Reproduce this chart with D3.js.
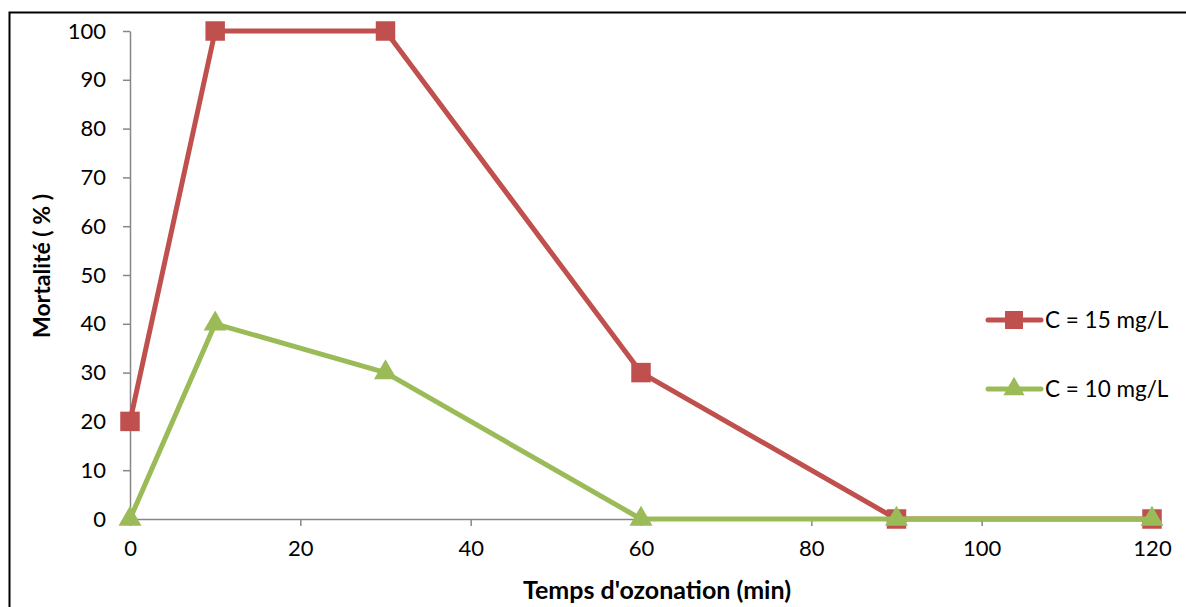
<!DOCTYPE html>
<html><head><meta charset="utf-8">
<script src="https://cdn.jsdelivr.net/npm/d3@7"></script>
<style>body{margin:0;background:#fff;} text{font-family:Lato,"Open Sans",sans-serif;}</style>
</head><body><svg id="c" width="1186" height="607"></svg>
<script>
const times = [0, 10, 30, 60, 90, 120];
const c15 = [20, 100, 100, 30, 0, 0];
const c10 = [0, 40, 30, 0, 0, 0];
const xTicks = [0, 20, 40, 60, 80, 100, 120];
const yTicks = [0, 10, 20, 30, 40, 50, 60, 70, 80, 90, 100];
const seriesNames = ["C = 15 mg/L", "C = 10 mg/L"];

const svg = d3.select("#c");
svg.append("rect").attr("x", 9.5).attr("y", 12.5).attr("width", 1200).attr("height", 620)
  .attr("fill", "#fff").attr("stroke", "#000").attr("stroke-width", 2);

const x = d3.scaleLinear().domain([0, 120]).range([130, 1152]);
const y = d3.scaleLinear().domain([0, 100]).range([519, 31]);

const gx = svg.append("g").attr("transform", "translate(0,519)")
  .call(d3.axisBottom(x).tickValues(xTicks).tickSize(7).tickPadding(14).tickSizeOuter(0));
const gy = svg.append("g").attr("transform", "translate(130,0)")
  .call(d3.axisLeft(y).tickValues(yTicks).tickSize(7).tickPadding(17).tickSizeOuter(0));
[gx, gy].forEach(g => {
  g.select(".domain").attr("stroke", "#868686").attr("stroke-width", 1.5);
  g.selectAll(".tick line").attr("stroke", "#868686").attr("stroke-width", 1.5);
  g.selectAll(".tick text").attr("fill", "#000").style("font-size", "22px").style("font-family", "Lato,'Open Sans',sans-serif");
});

const line = d3.line().x(d => x(d[0])).y(d => y(d[1]));
const series = [
  {name: seriesNames[0], vals: c15, color: "#C0504D", shape: d3.symbolSquare, size: 380},
  {name: seriesNames[1], vals: c10, color: "#9BBB59", shape: d3.symbolTriangle, size: 230}
];
series.forEach(s => {
  const pts = times.map((t, i) => [t, s.vals[i]]);
  svg.append("path").datum(pts).attr("d", line).attr("fill", "none")
    .attr("stroke", s.color).attr("stroke-width", 5).attr("stroke-linejoin", "round");
  svg.append("g").selectAll("path").data(pts).join("path")
    .attr("transform", d => `translate(${x(d[0])},${y(d[1])})`)
    .attr("d", d3.symbol().type(s.shape).size(s.size)).attr("fill", s.color);
});

const legY = [320, 389];
series.forEach((s, i) => {
  const g = svg.append("g").attr("transform", `translate(0,${legY[i]})`);
  g.append("line").attr("x1", 988).attr("x2", 1041).attr("y1", 0).attr("y2", 0)
    .attr("stroke", s.color).attr("stroke-width", 5).attr("stroke-linecap", "round");
  g.append("path").attr("transform", "translate(1014,0)")
    .attr("d", d3.symbol().type(s.shape).size(s.size * 0.85)).attr("fill", s.color);
  g.append("text").attr("x", 1045).attr("y", 0).attr("dy", "0.35em")
    .style("font-size", "22.5px").text(s.name);
});

svg.append("text").attr("x", 657).attr("y", 599).attr("text-anchor", "middle")
  .style("font-size", "25px").style("font-weight", "bold").text("Temps d'ozonation (min)");
svg.append("text").attr("transform", "translate(50,266) rotate(-90)").attr("text-anchor", "middle")
  .style("font-size", "23px").style("font-weight", "bold").text("Mortalité ( % )");
</script></body></html>
